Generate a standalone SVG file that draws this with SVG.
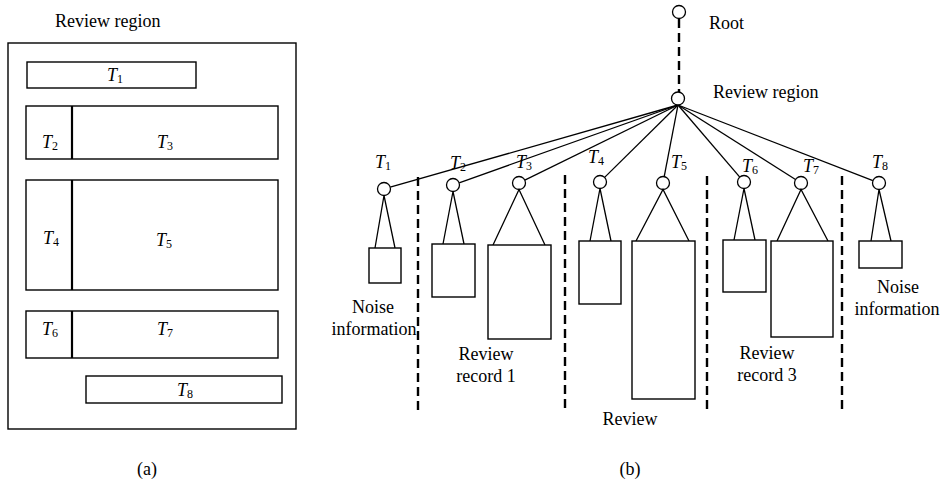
<svg xmlns="http://www.w3.org/2000/svg" width="945" height="485" viewBox="0 0 945 485">
<style>
text{font-family:"Liberation Serif","Times New Roman",serif;font-size:18px;fill:#000}
.t{font-style:italic}
.s{font-size:12px;font-style:normal}
.box{fill:#fff;stroke:#000;stroke-width:1.4}
.div{stroke:#000;stroke-width:2.2}
.ln{stroke:#000;stroke-width:1.3;fill:none}
.dash{stroke:#000;stroke-width:2.4;stroke-dasharray:9 5;fill:none}
.nd{fill:#fff;stroke:#000;stroke-width:1.3}
.c{text-anchor:middle}
</style>
<rect width="945" height="485" fill="#fff"/>

<!-- Panel (a) -->
<g id="panel-a">
<text x="55" y="27">Review region</text>
<rect class="box" x="8" y="43" width="288" height="386"/>
<g id="a-T1"><rect class="box" x="27" y="62" width="169" height="26"/>
<text x="107" y="81"><tspan class="t">T</tspan><tspan class="s" dy="1.5">1</tspan></text></g>
<g id="a-T2T3"><rect class="box" x="26" y="106" width="252" height="53"/>
<line class="div" x1="72" y1="106" x2="72" y2="159"/>
<text x="42" y="148"><tspan class="t">T</tspan><tspan class="s" dy="1.5">2</tspan></text>
<text x="157" y="148"><tspan class="t">T</tspan><tspan class="s" dy="1.5">3</tspan></text></g>
<g id="a-T4T5"><rect class="box" x="26" y="180" width="252" height="110"/>
<line class="div" x1="72" y1="180" x2="72" y2="290"/>
<text x="43" y="244"><tspan class="t">T</tspan><tspan class="s" dy="1.5">4</tspan></text>
<text x="156" y="246"><tspan class="t">T</tspan><tspan class="s" dy="1.5">5</tspan></text></g>
<g id="a-T6T7"><rect class="box" x="26" y="311" width="252" height="47"/>
<line class="div" x1="72" y1="311" x2="72" y2="358"/>
<text x="42" y="335"><tspan class="t">T</tspan><tspan class="s" dy="1.5">6</tspan></text>
<text x="157" y="335"><tspan class="t">T</tspan><tspan class="s" dy="1.5">7</tspan></text></g>
<g id="a-T8"><rect class="box" x="86" y="376" width="196" height="27"/>
<text x="177" y="396"><tspan class="t">T</tspan><tspan class="s" dy="1.5">8</tspan></text></g>
<text class="c" x="147" y="475">(a)</text>
</g>

<!-- Panel (b) connectors -->
<g id="connectors">
<line class="dash" x1="679" y1="19" x2="679" y2="92"/>
<line class="ln" x1="678" y1="105" x2="390.2" y2="187.2"/>
<line class="ln" x1="678" y1="105" x2="459.1" y2="182.8"/>
<line class="ln" x1="678" y1="105" x2="524.8" y2="180.1"/>
<line class="ln" x1="678" y1="105" x2="604.6" y2="177.4"/>
<line class="ln" x1="678" y1="105" x2="664.2" y2="176.6"/>
<line class="ln" x1="678" y1="105" x2="739.8" y2="177.1"/>
<line class="ln" x1="678" y1="105" x2="795.5" y2="179.5"/>
<line class="ln" x1="678" y1="105" x2="872.9" y2="180.6"/>
<line class="dash" x1="418" y1="177" x2="418" y2="410"/>
<line class="dash" x1="565" y1="175" x2="565" y2="410"/>
<line class="dash" x1="707" y1="176" x2="707" y2="410"/>
<line class="dash" x1="842" y1="176" x2="842" y2="410"/>
</g>

<g id="root"><circle class="nd" cx="679" cy="12" r="6.5"/><text x="709" y="29">Root</text></g>
<g id="review-region"><circle class="nd" cx="678" cy="98.5" r="6.5"/><text x="713" y="98">Review region</text></g>

<g id="b-T1">
<text x="375" y="168"><tspan class="t">T</tspan><tspan class="s" dy="1.5">1</tspan></text>
<circle class="nd" cx="384" cy="189" r="6.5"/>
<path class="ln" d="M375,248 L384,195.5 L395,248"/>
<rect class="box" x="369" y="248" width="32" height="35"/>
</g>
<g id="b-T2">
<text x="450" y="169"><tspan class="t">T</tspan><tspan class="s" dy="1.5">2</tspan></text>
<circle class="nd" cx="453" cy="185" r="6.5"/>
<path class="ln" d="M443,244 L453,191.5 L464,244"/>
<rect class="box" x="432" y="244" width="43" height="53"/>
</g>
<g id="b-T3">
<text x="516" y="168"><tspan class="t">T</tspan><tspan class="s" dy="1.5">3</tspan></text>
<circle class="nd" cx="519" cy="183" r="6.5"/>
<path class="ln" d="M493,245 L519,189.5 L545,245"/>
<rect class="box" x="488" y="245" width="63" height="94"/>
</g>
<g id="b-T4">
<text x="588" y="163"><tspan class="t">T</tspan><tspan class="s" dy="1.5">4</tspan></text>
<circle class="nd" cx="600" cy="182" r="6.5"/>
<path class="ln" d="M590,241 L600,188.5 L611,241"/>
<rect class="box" x="579" y="241" width="42" height="63"/>
</g>
<g id="b-T5">
<text x="671" y="168"><tspan class="t">T</tspan><tspan class="s" dy="1.5">5</tspan></text>
<circle class="nd" cx="663" cy="183" r="6.5"/>
<path class="ln" d="M636,241 L663,189.5 L689,241"/>
<rect class="box" x="632" y="241" width="63" height="158"/>
</g>
<g id="b-T6">
<text x="742" y="172"><tspan class="t">T</tspan><tspan class="s" dy="1.5">6</tspan></text>
<circle class="nd" cx="744" cy="182" r="6.5"/>
<path class="ln" d="M734,240 L744,188.5 L755,240"/>
<rect class="box" x="723" y="240" width="43" height="52"/>
</g>
<g id="b-T7">
<text x="803" y="172"><tspan class="t">T</tspan><tspan class="s" dy="1.5">7</tspan></text>
<circle class="nd" cx="801" cy="183" r="6.5"/>
<path class="ln" d="M777,241 L801,189.5 L828,241"/>
<rect class="box" x="771" y="241" width="62" height="96"/>
</g>
<g id="b-T8">
<text x="872" y="168"><tspan class="t">T</tspan><tspan class="s" dy="1.5">8</tspan></text>
<circle class="nd" cx="879" cy="183" r="6.5"/>
<path class="ln" d="M871,241 L879,189.5 L891,241"/>
<rect class="box" x="859" y="241" width="43" height="27"/>
</g>

<g id="labels">
<text class="c" x="373" y="313">Noise</text>
<text class="c" x="374" y="335">information</text>
<text class="c" x="486" y="360">Review</text>
<text class="c" x="486" y="382">record 1</text>
<text class="c" x="630" y="425">Review</text>
<text class="c" x="767" y="359">Review</text>
<text class="c" x="767" y="381">record 3</text>
<text class="c" x="898" y="293">Noise</text>
<text class="c" x="897" y="315">information</text>
<text class="c" x="630" y="475">(b)</text>
</g>
</svg>
